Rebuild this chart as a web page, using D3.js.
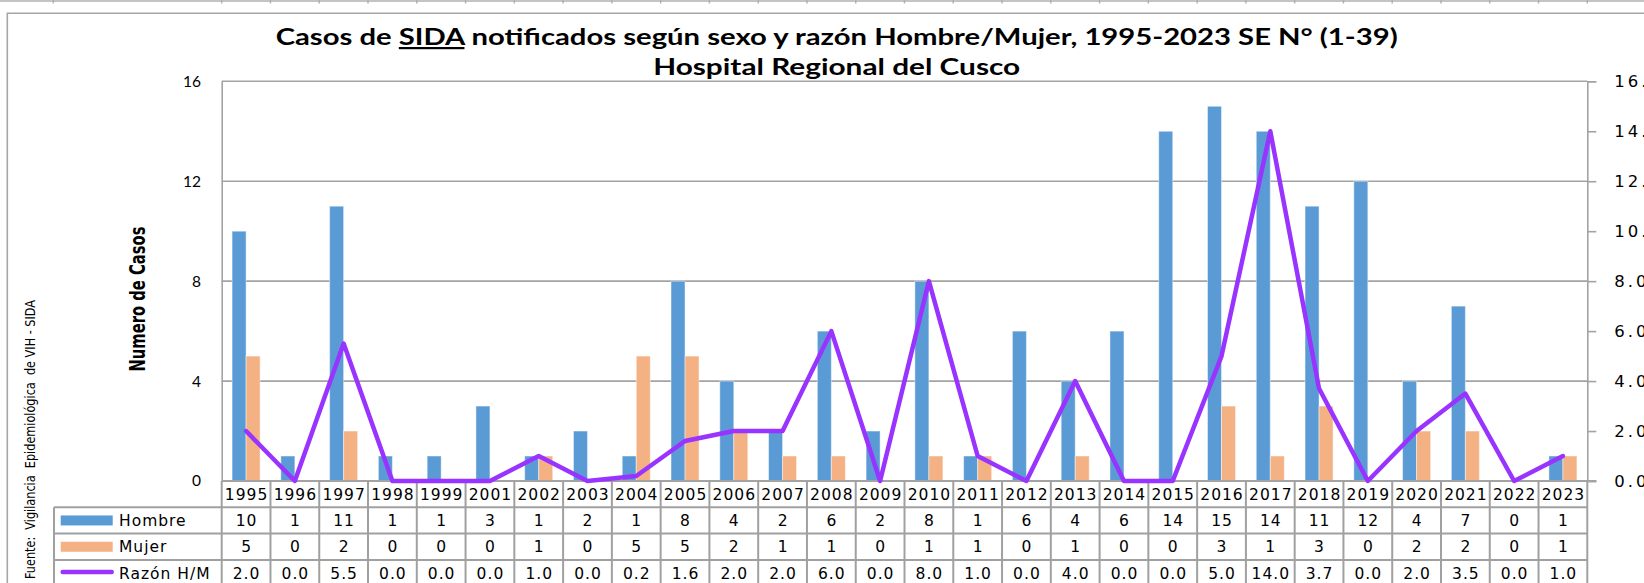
<!DOCTYPE html>
<html><head><meta charset="utf-8">
<script src="https://cdn.jsdelivr.net/npm/d3@7/dist/d3.min.js"></script>
<style>html,body{margin:0;padding:0;background:#fff;overflow:hidden}</style>
</head><body>
<script>
const years = ['1995','1996','1997','1998','1999','2001','2002','2003','2004','2005','2006','2007','2008','2009','2010','2011','2012','2013','2014','2015','2016','2017','2018','2019','2020','2021','2022','2023'];
const hombre = [10,1,11,1,1,3,1,2,1,8,4,2,6,2,8,1,6,4,6,14,15,14,11,12,4,7,0,1];
const mujer  = [5,0,2,0,0,0,1,0,5,5,2,1,1,0,1,1,0,1,0,0,3,1,3,0,2,2,0,1];
const razon  = [2.0,0.0,5.5,0.0,0.0,0.0,1.0,0.0,0.2,1.6,2.0,2.0,6.0,0.0,8.0,1.0,0.0,4.0,0.0,0.0,5.0,14.0,3.7,0.0,2.0,3.5,0.0,1.0];
const leftTicks = [0,4,8,12,16];
const rightTicks = [0,2,4,6,8,10,12,14,16];
const seriesNames = ['Hombre','Mujer','Razón H/M'];
const titleLine1a = 'Casos de ', titleSIDA = 'SIDA', titleLine1b = ' notificados según sexo y razón Hombre/Mujer, 1995-2023 SE N° (1-39)';
const titleLine2 = 'Hospital Regional del Cusco';
const yTitle = 'Numero de Casos';
const sourceText = 'Fuente:  Vigilancia  Epidemiológica  de VIH - SIDA';

const W = 1644, H = 583;
const X0 = 221.7, X1 = 1587.3, Y0 = 481, YT = 81.3;
const colBlue = '#5B9BD5', colOrange = '#F4B183', colPurple = '#9933FF', gridCol = '#a3a3a3';
const tableFont = '"DejaVu Sans", Verdana, sans-serif';

const svg = d3.select('body').append('svg').attr('width', W).attr('height', H)
  .style('display','block').style('background','#fff');

const x = d3.scaleBand().domain(years).range([X0, X1]);
const bw = x.bandwidth();
const xs = d3.scaleBand().domain(['h','m']).range([0, bw]).paddingInner(0).paddingOuter(0.74);
const y = d3.scaleLinear().domain([0,16]).range([Y0, YT]);
const yR = d3.scaleLinear().domain([0,16]).range([Y0, YT]);

const stripX = [53.3].concat(years.map(d => x(d))).concat([X1]);
svg.append('line').attr('x1',0).attr('x2',W).attr('y1',1).attr('y2',1).attr('stroke','#c4c4c4').attr('stroke-width',2);
svg.selectAll('.strip').data(stripX).join('line').attr('x1',d=>d).attr('x2',d=>d).attr('y1',0).attr('y2',3.5)
  .attr('stroke','#b0b0b0').attr('stroke-width',1.5);

svg.append('path').attr('d',`M7.3,${H} V13.3 H${W}`).attr('fill','none').attr('stroke','#a6a6a6').attr('stroke-width',1.6);

function fitText(sel, target){ const n = sel.node(); const L = n.getComputedTextLength(); if (L>0) sel.attr('textLength', target).attr('lengthAdjust','spacingAndGlyphs'); }
const t1 = svg.append('text').attr('x',836.7).attr('y',45).attr('text-anchor','middle')
  .style('font-family','Lato, "Open Sans", sans-serif').style('font-weight','bold').style('font-size','22px').attr('fill','#000');
t1.append('tspan').text(titleLine1a);
t1.append('tspan').text(titleSIDA).style('text-decoration','underline');
t1.append('tspan').text(titleLine1b);
fitText(t1, 1122);
const t2 = svg.append('text').attr('x',836.7).attr('y',75).attr('text-anchor','middle')
  .style('font-family','Lato, "Open Sans", sans-serif').style('font-weight','bold').style('font-size','22px').attr('fill','#000')
  .text(titleLine2);
fitText(t2, 367);

svg.append('g').selectAll('line').data(leftTicks.filter(d=>d>0)).join('line')
  .attr('x1',X0).attr('x2',X1).attr('y1',d=>y(d)).attr('y2',d=>y(d)).attr('stroke',gridCol).attr('stroke-width',1.6);

const groups = svg.append('g').selectAll('g').data(years).join('g').attr('transform',d=>`translate(${x(d)},0)`);
groups.append('rect').attr('x',xs('h')).attr('width',xs.bandwidth())
  .attr('y',(d,i)=>y(hombre[i])).attr('height',(d,i)=>Y0-y(hombre[i]))
  .attr('fill',colBlue).attr('stroke','rgba(255,255,255,0.45)').attr('stroke-width',1);
groups.append('rect').attr('x',xs('m')).attr('width',xs.bandwidth())
  .attr('y',(d,i)=>y(mujer[i])).attr('height',(d,i)=>Y0-y(mujer[i]))
  .attr('fill',colOrange).attr('stroke','rgba(255,255,255,0.45)').attr('stroke-width',1);

const gL = svg.append('g').attr('transform',`translate(${X0},0)`)
  .call(d3.axisLeft(y).tickValues(leftTicks).tickSize(0).tickPadding(20.7).tickFormat(d3.format('d')));
gL.select('.domain').attr('stroke',gridCol).attr('stroke-width',1.6);
gL.selectAll('text').style('font-family','Lato, "Open Sans", sans-serif').style('font-size','15.5px').attr('fill','#000');

const gR = svg.append('g').attr('transform',`translate(${X1},0)`)
  .call(d3.axisRight(yR).tickValues(rightTicks).tickSize(9).tickPadding(18).tickFormat(d=>d.toFixed(1)));
gR.select('.domain').attr('stroke',gridCol).attr('stroke-width',1.6);
gR.selectAll('.tick line').attr('stroke',gridCol).attr('stroke-width',1.6);
gR.selectAll('text').attr('text-anchor','start').style('font-family',tableFont).style('font-size','16.5px').style('letter-spacing','3px').attr('fill','#000');

svg.append('line').attr('x1',X0).attr('x2',X1+9).attr('y1',Y0).attr('y2',Y0).attr('stroke',gridCol).attr('stroke-width',2);

const rowH = 26.3;
const rowsY = [Y0, Y0+rowH, Y0+2*rowH, Y0+3*rowH, Y0+4*rowH];
const tbl = svg.append('g');
const tl = {stroke:'#a0a0a0', w:2};
[1,2,3,4].forEach(r => tbl.append('line').attr('x1',54).attr('x2',X1).attr('y1',rowsY[r]).attr('y2',rowsY[r]).attr('stroke',tl.stroke).attr('stroke-width',tl.w));
tbl.selectAll('.vl').data(years.map(d=>x(d)).concat([X1])).join('line')
  .attr('x1',d=>d).attr('x2',d=>d).attr('y1',Y0).attr('y2',rowsY[4]).attr('stroke',tl.stroke).attr('stroke-width',tl.w);
tbl.append('line').attr('x1',54).attr('x2',54).attr('y1',rowsY[1]).attr('y2',rowsY[4]).attr('stroke',tl.stroke).attr('stroke-width',tl.w);

function cellText(row, vals, fmt){
  tbl.append('g').selectAll('text').data(years).join('text')
    .attr('x',d=>x(d)+bw/2+0.5).attr('y',rowsY[row]+rowH/2).attr('dy','0.36em').attr('text-anchor','middle')
    .style('font-family',tableFont).style('font-size','15.5px').style('letter-spacing','1px').attr('fill','#000')
    .text((d,i)=>fmt(vals[i], d));
}
cellText(0, years, v=>v);
cellText(1, hombre, v=>String(v));
cellText(2, mujer, v=>String(v));
cellText(3, razon, v=>v.toFixed(1));

const keyX0 = 60.7, keyX1 = 112.7;
tbl.append('rect').attr('x',keyX0).attr('width',keyX1-keyX0).attr('y',rowsY[1]+rowH/2-5).attr('height',10).attr('fill',colBlue);
tbl.append('rect').attr('x',keyX0).attr('width',keyX1-keyX0).attr('y',rowsY[2]+rowH/2-5).attr('height',10).attr('fill',colOrange);
tbl.append('line').attr('x1',keyX0+2).attr('x2',keyX1-1).attr('y1',rowsY[3]+rowH/2-1).attr('y2',rowsY[3]+rowH/2-1)
  .attr('stroke',colPurple).attr('stroke-width',4.5).attr('stroke-linecap','round');
tbl.selectAll('.lbl').data(seriesNames).join('text')
  .attr('x',119).attr('y',(d,i)=>rowsY[i+1]+rowH/2).attr('dy','0.36em')
  .style('font-family',tableFont).style('font-size','15.5px').style('letter-spacing','1px').attr('fill','#000')
  .text(d=>d);

const line = d3.line().x((d,i)=>x(years[i])+bw/2).y(d=>yR(d));
svg.append('path').datum(razon).attr('d',line).attr('fill','none').attr('stroke',colPurple)
  .attr('stroke-width',4.5).attr('stroke-linejoin','round').attr('stroke-linecap','round');

const yt = svg.append('text').attr('transform','translate(145,299) rotate(-90)').attr('text-anchor','middle')
  .style('font-family','"Liberation Sans Narrow", "DejaVu Sans Condensed", "Liberation Sans", sans-serif')
  .style('font-weight','bold').style('font-size','20.5px').attr('fill','#000').text(yTitle);
fitText(yt, 145);

const st = svg.append('text').attr('transform','translate(35,439.5) rotate(-90)').attr('text-anchor','middle')
  .style('font-family','"Liberation Sans Narrow", "DejaVu Sans Condensed", "Liberation Sans", sans-serif')
  .style('font-size','13.5px').style('white-space','pre').attr('fill','#000').text(sourceText);
fitText(st, 279);
</script>
</body></html>
